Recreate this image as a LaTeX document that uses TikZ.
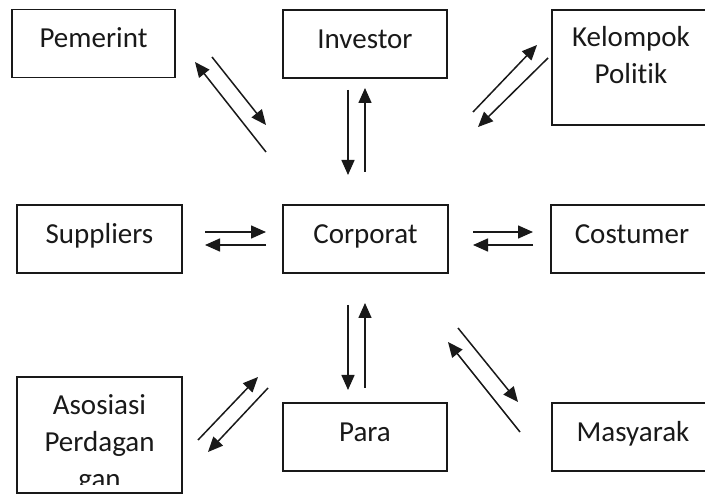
\documentclass[tikz,border=0pt]{standalone}
\usepackage{fontspec}
\setmainfont{Carlito}[Ligatures=NoCommon]
\usetikzlibrary{
    arrows.meta,
    positioning
}

\begin{document}
\begin{tikzpicture}[
        x=1pt, y=-1pt,
        every node/.style={
            font=\fontsize{29pt}{37pt}\selectfont,
            text=black!90
        },
        party/.style={
            rectangle,
            draw=black!90,
            line width=1.2pt,
            inner sep=0pt,
            minimum height=68pt,
            text height=19pt,
            text depth=10pt,
            align=center
        },
        tallparty/.style={
            rectangle,
            draw=black!90,
            line width=1.2pt,
            inner sep=0pt
        },
        flow/.style={
            -{Triangle[length=15pt,width=13pt]},
            line width=1.5pt,
            draw=black!90
        }
    ]

    \useasboundingbox (0,0) rectangle (705,494);
    \clip (0,0) rectangle (705,494);

    % top row
    \node[party, minimum width=163pt] (pemerint) at (93.5,43.5) {Pemerint};
    \node[party, minimum width=164pt] (investor) at (365,44) {Investor};
    \node[tallparty] (kelompok) at (631,67.5)
        {\parbox[c][115pt][t]{158pt}{\centering\rule{0pt}{37pt}Kelompok\\Politik}};

    % middle row
    \node[party, minimum width=165pt] (suppliers) at (99.5,239) {Suppliers};
    \node[party, minimum width=165pt] (corporat) at (365.5,239) {Corporat};
    \node[party, minimum width=162pt] (costumer) at (632,239) {Costumer};

    % bottom row
    \node[tallparty, minimum width=165pt, minimum height=116pt] (asosiasi) at (99.5,435) {};
    \begin{scope}
        \clip (asosiasi.north west) rectangle ([yshift=9pt]asosiasi.south east);
        \node[inner sep=0pt] (asosiasitext) at (asosiasi)
            {\parbox[c][116pt][t]{165pt}{\centering\rule{0pt}{38pt}Asosiasi\\Perdagan\\gan}};
    \end{scope}
    \node[party, minimum width=164pt] (para) at (365,437) {Para};
    \node[party, minimum width=162pt] (masyarak) at (633,437) {Masyarak};

    % arrow ends
    \coordinate (pe1) at (212,57);   \coordinate (pe2) at (266,125);
    \coordinate (pe3) at (266,152);  \coordinate (pe4) at (195,62);
    \coordinate (in1) at (348,90);   \coordinate (in2) at (348,175);
    \coordinate (in3) at (365,172);  \coordinate (in4) at (365,88);
    \coordinate (ke1) at (473,112);  \coordinate (ke2) at (537,45);
    \coordinate (ke3) at (548,58);   \coordinate (ke4) at (478,127);
    \coordinate (su1) at (205,232);  \coordinate (su2) at (266,232);
    \coordinate (su3) at (266,245);  \coordinate (su4) at (205,245);
    \coordinate (co1) at (473,232);  \coordinate (co2) at (533,232);
    \coordinate (co3) at (533,245);  \coordinate (co4) at (473,245);
    \coordinate (as1) at (198,440);  \coordinate (as2) at (258,377);
    \coordinate (as3) at (268,388);  \coordinate (as4) at (208,452);
    \coordinate (pa1) at (348,305);  \coordinate (pa2) at (348,390);
    \coordinate (pa3) at (365,388);  \coordinate (pa4) at (365,303);
    \coordinate (ma1) at (458,328);  \coordinate (ma2) at (518,402);
    \coordinate (ma3) at (520,432);  \coordinate (ma4) at (448,342);

    \foreach \p in {pe,in,ke,su,co,as,pa,ma} {
        \draw[flow] (\p1) -- (\p2);
        \draw[flow] (\p3) -- (\p4);
    }

\end{tikzpicture}
\end{document}
